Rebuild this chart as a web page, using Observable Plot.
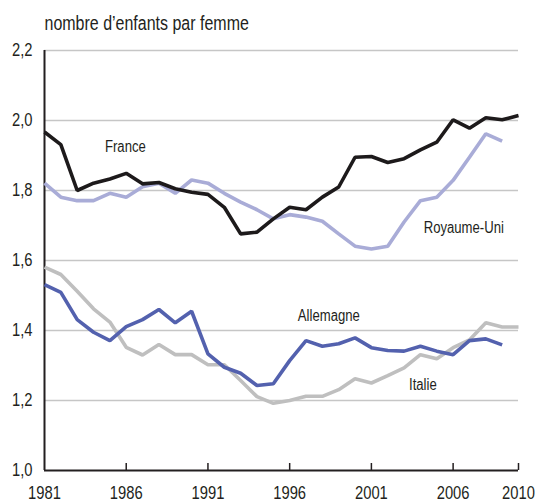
<!DOCTYPE html>
<html>
<head>
<meta charset="utf-8">
<script src="https://cdn.jsdelivr.net/npm/d3@7"></script>
<script src="https://cdn.jsdelivr.net/npm/@observablehq/plot@0.6"></script>
<style>
  html, body { margin: 0; padding: 0; background: #fff; }
  #chart svg { display: block; }
</style>
</head>
<body>
<div id="chart"></div>
<script>
const years = d3.range(1981, 2011);
const france = [1.967, 1.931, 1.800, 1.821, 1.833, 1.849, 1.819, 1.823, 1.805, 1.795, 1.789, 1.752, 1.676, 1.681, 1.719, 1.752, 1.745, 1.781, 1.810, 1.895, 1.897, 1.880, 1.891, 1.916, 1.938, 2.002, 1.978, 2.008, 2.002, 2.014];
const royaumeUni = [1.821, 1.781, 1.771, 1.771, 1.792, 1.781, 1.811, 1.821, 1.792, 1.830, 1.821, 1.792, 1.767, 1.745, 1.719, 1.731, 1.724, 1.712, 1.676, 1.641, 1.633, 1.641, 1.710, 1.771, 1.781, 1.829, 1.895, 1.962, 1.941, null];
const allemagne = [1.531, 1.509, 1.431, 1.395, 1.371, 1.411, 1.431, 1.460, 1.422, 1.455, 1.333, 1.295, 1.278, 1.243, 1.248, 1.314, 1.371, 1.355, 1.362, 1.379, 1.351, 1.343, 1.341, 1.355, 1.341, 1.331, 1.371, 1.376, 1.359, null];
const italie = [1.581, 1.560, 1.512, 1.462, 1.424, 1.352, 1.330, 1.360, 1.331, 1.331, 1.302, 1.302, 1.257, 1.211, 1.192, 1.200, 1.212, 1.212, 1.231, 1.262, 1.250, 1.271, 1.293, 1.331, 1.319, 1.351, 1.373, 1.422, 1.410, 1.410];

const seriesNames = ["Italie", "Royaume-Uni", "Allemagne", "France"];
const seriesValues = [italie, royaumeUni, allemagne, france];
const seriesColors = ["#bfbfbf", "#a9acd7", "#5361ae", "#1d1a1b"];

const xTicks = [1981, 1986, 1991, 1996, 2001, 2006, 2010];
const yTicks = [1.0, 1.2, 1.4, 1.6, 1.8, 2.0, 2.2];
const gridValues = [1.2, 1.4, 1.6, 1.8, 2.0, 2.2];

const labelNames = ["France", "Royaume-Uni", "Allemagne", "Italie"];
const labelYears = [1984.7, 2004.2, 1996.5, 2003.3];
const labelValues = [1.926, 1.694, 1.443, 1.246];

const titleText = "nombre d\u2019enfants par femme";

const rows = [];
seriesNames.forEach((name, s) => {
  years.forEach((yr, i) => {
    const v = seriesValues[s][i];
    if (v != null) rows.push({serie: name, year: yr, value: v});
  });
});
const labels = labelNames.map((n, i) => ({name: n, year: labelYears[i], value: labelValues[i]}));

const chart = Plot.plot({
  width: 539,
  height: 504,
  marginLeft: 44,
  marginRight: 21,
  marginTop: 50,
  marginBottom: 34,
  style: {fontFamily: "'Liberation Sans', Arial, sans-serif", fontSize: "18px", color: "#231f20", background: "#fff"},
  x: {domain: [1981, 2010]},
  y: {domain: [1.0, 2.2]},
  color: {domain: seriesNames, range: seriesColors},
  marks: [
    Plot.ruleY(gridValues, {stroke: "#c6c6c6", strokeWidth: 1.5}),
    Plot.axisY({ticks: yTicks, tickSize: 0, tickPadding: 12, tickFormat: d => d.toFixed(1).replace(".", ","), label: null, fill: "#231f20"}),
    Plot.axisX({ticks: xTicks, tickSize: 0, tickPadding: 16, tickFormat: d => String(d), label: null, fill: "#231f20"}),
    Plot.ruleX(xTicks.slice(1), {y1: 1.0, y2: 1.0, insetTop: -7, stroke: "#231f20", strokeWidth: 1.5}),
    Plot.ruleY([1.0], {stroke: "#231f20", strokeWidth: 2}),
    Plot.ruleX([1981], {y1: 1.0, y2: 2.2, stroke: "#231f20", strokeWidth: 2}),
    Plot.line(rows, {x: "year", y: "value", z: "serie", stroke: "serie", strokeWidth: 3.6, strokeLinejoin: "miter", strokeLinecap: "butt"}),
    Plot.text(labels, {x: "year", y: "value", text: "name", textAnchor: "start", fontSize: 16, fill: "#231f20"}),
    Plot.text([titleText], {frameAnchor: "top-left", dy: -34, text: d => d, textAnchor: "start", fontSize: 19.5, fill: "#231f20"})
  ]
});

// Emulate the condensed typeface of the original: compress each text horizontally about its own anchor
d3.select(chart).selectAll("text").each(function() {
  const t = this.getAttribute("transform") || "";
  const x = this.getAttribute("x");
  if (x != null && !t) {
    const y = this.getAttribute("y") || 0;
    this.removeAttribute("x"); this.removeAttribute("y");
    this.setAttribute("transform", `translate(${x},${y}) scale(0.82,1)`);
  } else {
    this.setAttribute("transform", (t + " scale(0.82,1)").trim());
  }
});
document.getElementById("chart").appendChild(chart);
</script>
</body>
</html>
